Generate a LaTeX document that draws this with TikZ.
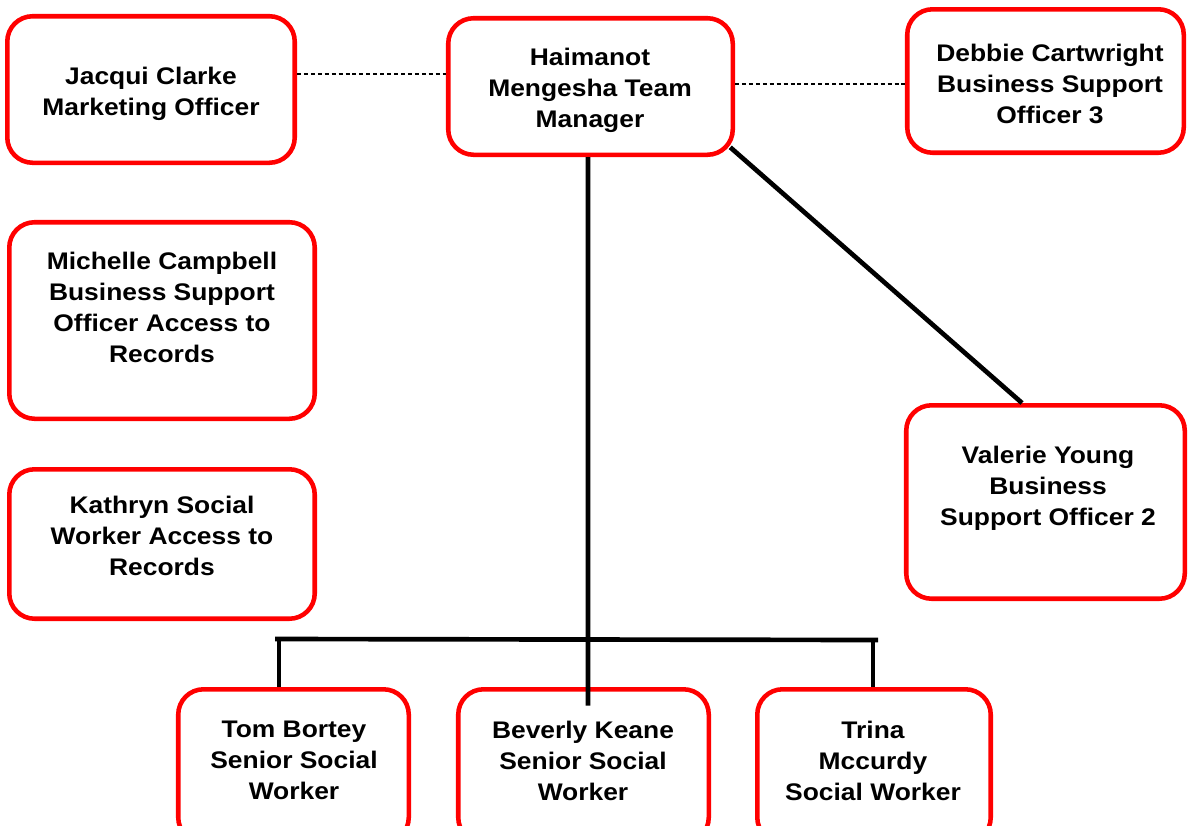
\documentclass[tikz,border=0pt]{standalone}
\usepackage{fontspec}
\setmainfont{Liberation Sans}
\newfontfamily\orgfont[FakeStretch=1.1]{Liberation Sans}
\begin{document}
\begin{tikzpicture}[x=0.75pt,y=-0.75pt,
  box/.style={draw=red, line width=3.4pt, rounded corners=19pt, inner sep=0pt, fill=white},
  lbl/.style={align=center, font=\orgfont\bfseries\fontsize{18pt}{23.25pt}\selectfont, inner sep=0pt},
  conn/.style={draw=black, line width=3.5pt},
  dashconn/.style={draw=black, line width=0.9pt, dash pattern=on 3pt off 2.2pt}]
\clip (0,0) rectangle (1188,825);
\fill[white] (0,0) rectangle (1188,825);
% boxes
\node[box, minimum width=215.6pt, minimum height=109.9pt] (jacqui) at (151,89.5) {};
\node[box, minimum width=213.4pt, minimum height=102.4pt] (haimanot) at (590.5,86.5) {};
\node[box, minimum width=207.4pt, minimum height=107.6pt] (debbie) at (1045.5,81) {};
\node[box, minimum width=229.1pt, minimum height=147.4pt] (michelle) at (162,320.5) {};
\node[box, minimum width=229.1pt, minimum height=112.1pt] (kathryn) at (162,544) {};
\node[box, minimum width=208.9pt, minimum height=145.1pt] (valerie) at (1045.5,502) {};
\node[box, minimum width=172.9pt, minimum height=115.1pt] (tom) at (293.5,766) {};
\node[box, minimum width=187.9pt, minimum height=115.1pt] (beverly) at (583.5,766) {};
\node[box, minimum width=175.1pt, minimum height=115.1pt] (trina) at (874,766) {};
% texts
\node[lbl] (jacquiT) at (151,93.5) {Jacqui Clarke\\Marketing Officer};
\node[lbl] (haimanotT) at (590,90) {Haimanot\\Mengesha Team\\Manager};
\node[lbl] (debbieT) at (1050,84) {Debbie Cartwright\\Business Support\\Officer 3};
\node[lbl] (michelleT) at (162,307.5) {Michelle Campbell\\Business Support\\Officer Access to\\Records};
\node[lbl] (kathrynT) at (162,535.5) {Kathryn Social\\Worker Access to\\Records};
\node[lbl] (valerieT) at (1048,488.5) {Valerie Young\\Business\\Support Officer 2};
\node[lbl] (tomT) at (294,760.5) {Tom Bortey\\Senior Social\\Worker};
\node[lbl] (beverlyT) at (583,760.5) {Beverly Keane\\Senior Social\\Worker};
\node[lbl] (trinaT) at (873,760.5) {Trina\\Mccurdy\\Social Worker};
% dashed connectors
\draw[dashconn] ([yshift=11.6pt]jacqui.east) -- ([yshift=11.6pt]jacqui.east -| haimanot.west);
\draw[dashconn] ([yshift=1.9pt]haimanot.east) -- ([yshift=1.9pt]haimanot.east -| debbie.west);
% solid connectors
\draw[conn] ([xshift=-3.6pt,yshift=7.3pt]haimanot.south east) -- ([xshift=-17.6pt]valerie.north);
\coordinate (barL) at (275,639);
\coordinate (barR) at (878,640);
\draw[conn] (barL) -- (barR);
\draw[conn] ([xshift=-10.9pt]tom.north) -- ([xshift=-10.9pt]tom.north |- barL);
\draw[conn] ([xshift=-0.75pt]trina.north) -- ([xshift=-0.75pt]trina.north |- barR);
\draw[conn] ([xshift=-1.9pt]haimanot.south) -- ([xshift=3.4pt,yshift=-14pt]beverly.north);
\end{tikzpicture}
\end{document}
